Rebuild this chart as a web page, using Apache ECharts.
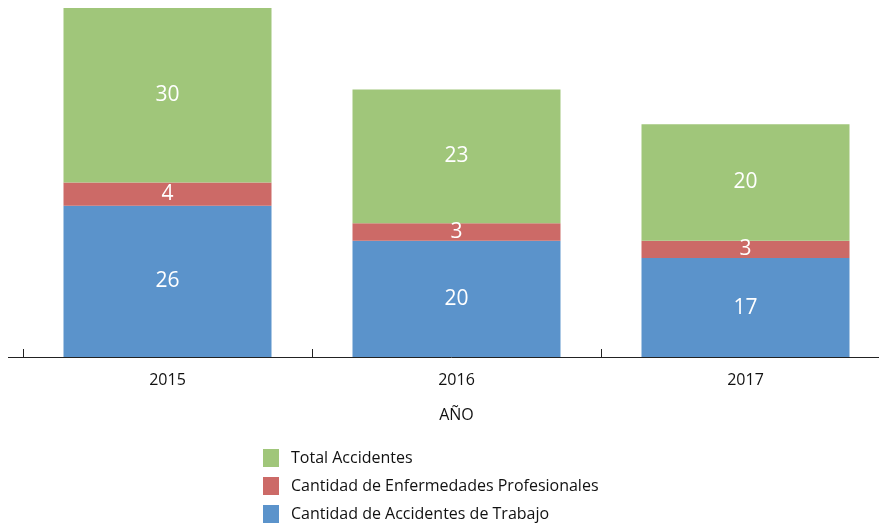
<!DOCTYPE html>
<html><head><meta charset="utf-8">
<script src="https://cdn.jsdelivr.net/npm/echarts@6/dist/echarts.min.js"></script>
<style>html,body{margin:0;padding:0;background:#fff}#c{width:879px;height:525px}</style>
</head><body><div id="c"></div>
<script>
const categories = ['2015', '2016', '2017'];
const accidentesTrabajo = [26, 20, 17];
const enfermedades = [4, 3, 3];
const totalAccidentes = [30, 23, 20];
const seriesNames = ['Cantidad de Accidentes de Trabajo', 'Cantidad de Enfermedades Profesionales', 'Total Accidentes'];
const legendOrder = ['Total Accidentes', 'Cantidad de Enfermedades Profesionales', 'Cantidad de Accidentes de Trabajo'];
const colors = ['#5B93CB', '#CC6A67', '#A0C67A'];
const font = 'Open Sans';

const chart = echarts.init(document.getElementById('c'));
const lbl = {show: true, position: 'inside', color: '#fff', fontSize: 21, fontFamily: font};
const data = [accidentesTrabajo, enfermedades, totalAccidentes];
chart.setOption({
  animation: false,
  textStyle: {fontFamily: font},
  grid: {left: 23, width: 867, top: 8, bottom: 168, containLabel: false, outerBoundsMode: 'none'},
  legend: {
    data: legendOrder, orient: 'vertical', left: 263, top: 449, height: 90, padding: 0,
    itemWidth: 16, itemHeight: 18, itemGap: 10, selectedMode: false,
    icon: 'rect',
    textStyle: {fontSize: 16, color: '#111', fontFamily: font, padding: [0, 0, 0, 7]}
  },
  xAxis: {
    type: 'category', data: categories,
    axisLine: {show: true, lineStyle: {color: '#222', width: 1}},
    axisTick: {show: true, inside: true, length: 8, lineStyle: {color: '#222', width: 1}},
    axisLabel: {fontSize: 16, color: '#111', margin: 15},
    name: 'AÑO', nameLocation: 'middle', nameGap: 50,
    nameTextStyle: {fontSize: 16, color: '#111'}
  },
  yAxis: {type: 'value', min: 0, max: 60, show: false, splitLine: {show: false}},
  series: seriesNames.map((n, i) => ({
    name: n, type: 'bar', stack: 'a', barWidth: 208,
    itemStyle: {color: colors[i]}, label: lbl, data: data[i]
  })),
  graphic: [{type: 'line', shape: {x1: 8, y1: 357.5, x2: 24, y2: 357.5}, style: {stroke: '#222', lineWidth: 1}}]
});
</script></body></html>
